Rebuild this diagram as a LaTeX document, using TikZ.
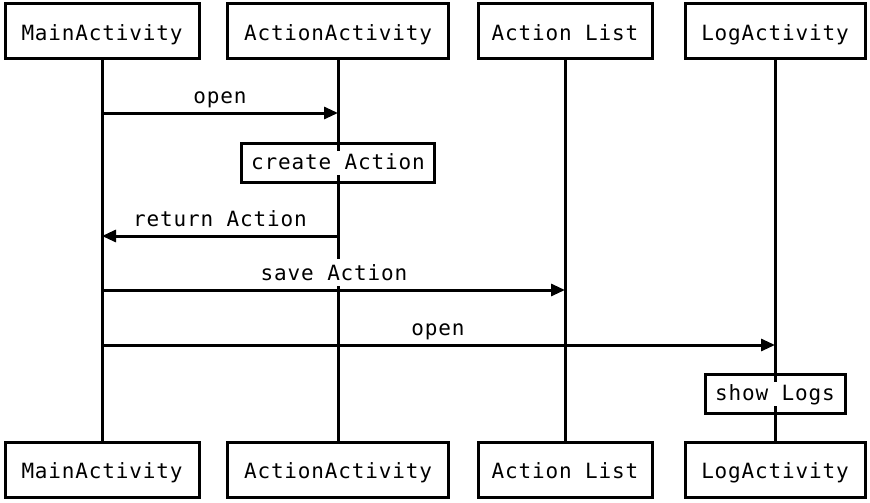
\documentclass[tikz,border=0pt]{standalone}
\usepackage{fontspec}
\setmonofont[LetterSpace=4]{DejaVu Sans Mono}
\usetikzlibrary{arrows.meta}
\tikzset{
  actor/.style={draw, line width=3pt, minimum height=55pt, inner sep=0pt, text height=18pt, text depth=0pt},
  lifeline/.style={line width=3pt},
  actbox/.style={draw, line width=3pt, minimum height=39pt, inner sep=0pt},
  acttext/.style={fill=white, inner sep=2pt, text height=17pt, text depth=3pt},
  msg/.style={line width=3pt, -{Triangle[length=14pt,width=12pt]}},
  msglabel/.style={anchor=base, fill=white, inner sep=1pt, text height=20pt, text depth=5pt}
}
\begin{document}
\begin{tikzpicture}[x=1pt,y=-1pt,font=\ttfamily\fontsize{21}{25}\selectfont]
\useasboundingbox (0,0) rectangle (870,503);
% actors top
\node[actor, minimum width=194pt] (mt) at (102,31.5) {MainActivity};
\node[actor, minimum width=221pt] (at) at (338,31.5) {ActionActivity};
\node[actor, minimum width=174pt] (lt) at (565,31.5) {Action List};
\node[actor, minimum width=180pt] (gt) at (775,31.5) {LogActivity};
% actors bottom
\node[actor, minimum width=194pt] (mb) at (102,469.5) {MainActivity};
\node[actor, minimum width=221pt] (ab) at (338,469.5) {ActionActivity};
\node[actor, minimum width=174pt] (lb) at (565,469.5) {Action List};
\node[actor, minimum width=180pt] (gb) at (775,469.5) {LogActivity};
% lifelines
\draw[lifeline] (mt.south) -- (mb.north);
\draw[lifeline] (at.south) -- (ab.north);
\draw[lifeline] (lt.south) -- (lb.north);
\draw[lifeline] (gt.south) -- (gb.north);
% message points
\coordinate (m1s) at (102,113); \coordinate (m1e) at (338,113);
\coordinate (m2s) at (338,236); \coordinate (m2e) at (102,236);
\coordinate (m3s) at (102,290); \coordinate (m3e) at (565,290);
\coordinate (m4s) at (102,345); \coordinate (m4e) at (775,345);
% activation boxes
\node[actbox, minimum width=193pt] (ca) at (338,162.5) {};
\node[acttext] (cat) at (ca) {create Action};
\node[actbox, minimum width=140pt] (sl) at (775,393.5) {};
\node[acttext] (slt) at (sl) {show Logs};
% message labels
\node[msglabel] (l1) at (220,103) {open};
\node[msglabel] (l2) at (220,226) {return Action};
\node[msglabel] (l3) at (334,280) {save Action};
\node[msglabel] (l4) at (438,335) {open};
% messages
\draw[msg] (m1s) -- (m1e);
\draw[msg] (m2s) -- (m2e);
\draw[msg] (m3s) -- (m3e);
\draw[msg] (m4s) -- (m4e);
\end{tikzpicture}
\end{document}
